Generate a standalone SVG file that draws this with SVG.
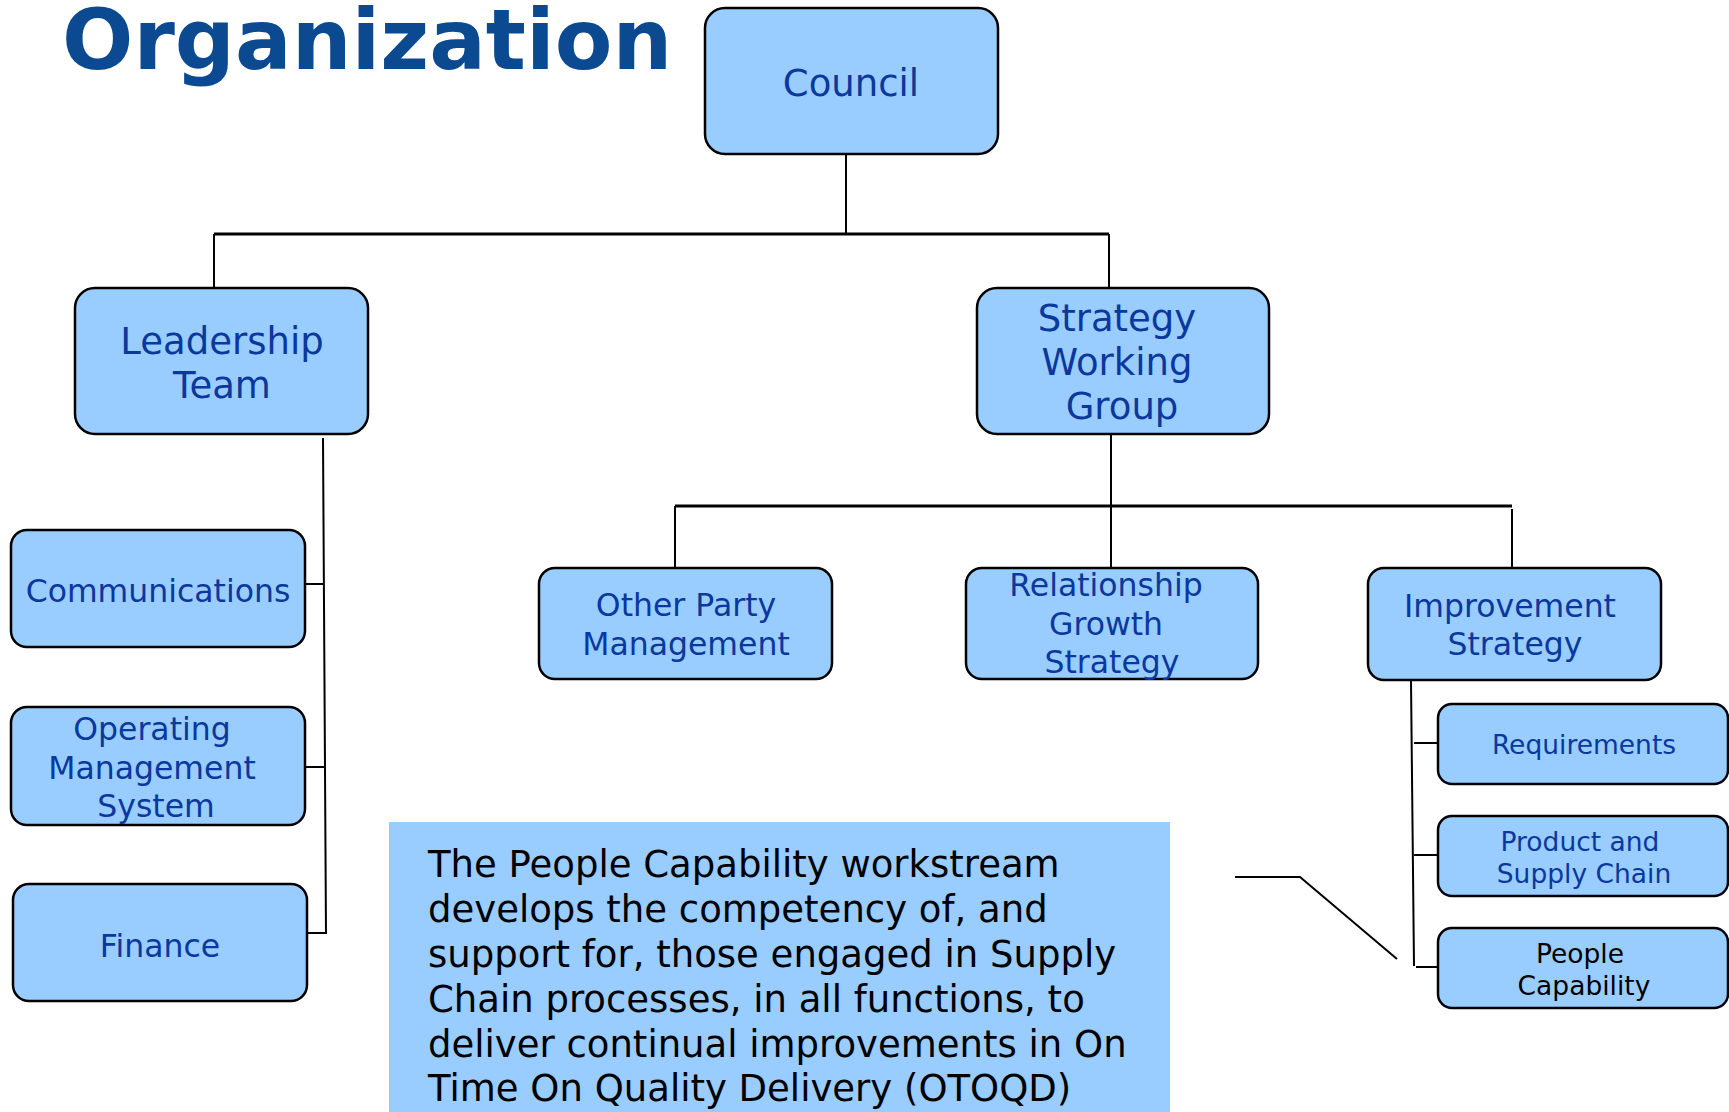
<svg xmlns="http://www.w3.org/2000/svg" width="1729" height="1112" viewBox="0 0 1729 1112">
<style>
.box{fill:#99ccff;stroke:#000;stroke-width:2.5}
.t{font-family:"DejaVu Sans",Verdana,sans-serif;fill:#0b389c;text-anchor:middle}
.big{font-size:37px}
.mid{font-size:31.5px}
.sm{font-size:26.5px}
.blk{fill:#000}
.ln{fill:none;stroke:#000;stroke-width:2}
.th{stroke-width:3}
</style>
<rect width="1729" height="1112" fill="#fff"/>
<text x="62" y="69" font-family="DejaVu Sans,Verdana,sans-serif" font-weight="bold" font-size="84" fill="#0b4a91">Organization</text>

<g id="connectors">
<path class="ln" d="M846 155V234"/>
<path class="ln th" d="M214 234H1109"/>
<path class="ln" d="M214 234V288M1109 234V288"/>
<path class="ln" d="M323 438L326 934M305 584H324M305 767H325M307 933H326"/>
<path class="ln" d="M1111 434V568"/>
<path class="ln th" d="M675 506H1512"/>
<path class="ln" d="M675 506V568M1512 509V568"/>
<path class="ln" d="M1411 681L1414 966M1414 743H1438M1414 855H1438M1416 967H1438"/>
<path class="ln" d="M1235 877H1300L1397 959"/>
</g>

<g id="council">
<rect class="box" x="705" y="8" width="293" height="146" rx="20"/>
<text class="t big" x="851" y="96">Council</text>
</g>
<g id="leadership">
<rect class="box" x="75" y="288" width="293" height="146" rx="20"/>
<text class="t big" x="222" y="354">Leadership</text>
<text class="t big" x="222" y="398">Team</text>
</g>
<g id="swg">
<rect class="box" x="977" y="288" width="292" height="146" rx="20"/>
<text class="t big" x="1117" y="331">Strategy</text>
<text class="t big" x="1117" y="375">Working</text>
<text class="t big" x="1122" y="419">Group</text>
</g>
<g id="communications">
<rect class="box" x="11" y="530" width="294" height="117" rx="16"/>
<text class="t mid" x="158" y="602">Communications</text>
</g>
<g id="oms">
<rect class="box" x="11" y="707" width="294" height="118" rx="16"/>
<text class="t mid" x="152" y="740">Operating</text>
<text class="t mid" x="152" y="779">Management</text>
<text class="t mid" x="156" y="817">System</text>
</g>
<g id="finance">
<rect class="box" x="13" y="884" width="294" height="117" rx="16"/>
<text class="t mid" x="160" y="957">Finance</text>
</g>
<g id="otherparty">
<rect class="box" x="539" y="568" width="293" height="111" rx="16"/>
<text class="t mid" x="686" y="616">Other Party</text>
<text class="t mid" x="686" y="655">Management</text>
</g>
<g id="relationship">
<rect class="box" x="966" y="568" width="292" height="111" rx="16"/>
<text class="t mid" x="1106" y="596">Relationship</text>
<text class="t mid" x="1106" y="635">Growth</text>
<text class="t mid" x="1112" y="673">Strategy</text>
</g>
<g id="improvement">
<rect class="box" x="1368" y="568" width="293" height="112" rx="16"/>
<text class="t mid" x="1510" y="617">Improvement</text>
<text class="t mid" x="1515" y="655">Strategy</text>
</g>
<g id="requirements">
<rect class="box" x="1438" y="704" width="290" height="80" rx="14"/>
<text class="t sm" x="1584" y="754">Requirements</text>
</g>
<g id="product">
<rect class="box" x="1438" y="816" width="290" height="80" rx="14"/>
<text class="t sm" x="1580" y="851">Product and</text>
<text class="t sm" x="1584" y="883">Supply Chain</text>
</g>
<g id="people">
<rect class="box" x="1438" y="928" width="290" height="80" rx="14"/>
<text class="t sm blk" x="1580" y="963">People</text>
<text class="t sm blk" x="1584" y="995">Capability</text>
</g>
<g id="description">
<rect x="389" y="822" width="781" height="290" fill="#99ccff"/>
<text font-family="DejaVu Sans,Verdana,sans-serif" font-size="37" fill="#000">
<tspan x="428" y="877">The People Capability workstream</tspan>
<tspan x="428" y="922">develops the competency of, and</tspan>
<tspan x="428" y="967">support for, those engaged in Supply</tspan>
<tspan x="428" y="1012">Chain processes, in all functions, to</tspan>
<tspan x="428" y="1057">deliver continual improvements in On</tspan>
<tspan x="428" y="1101">Time On Quality Delivery (OTOQD)</tspan>
</text>
</g>
</svg>
